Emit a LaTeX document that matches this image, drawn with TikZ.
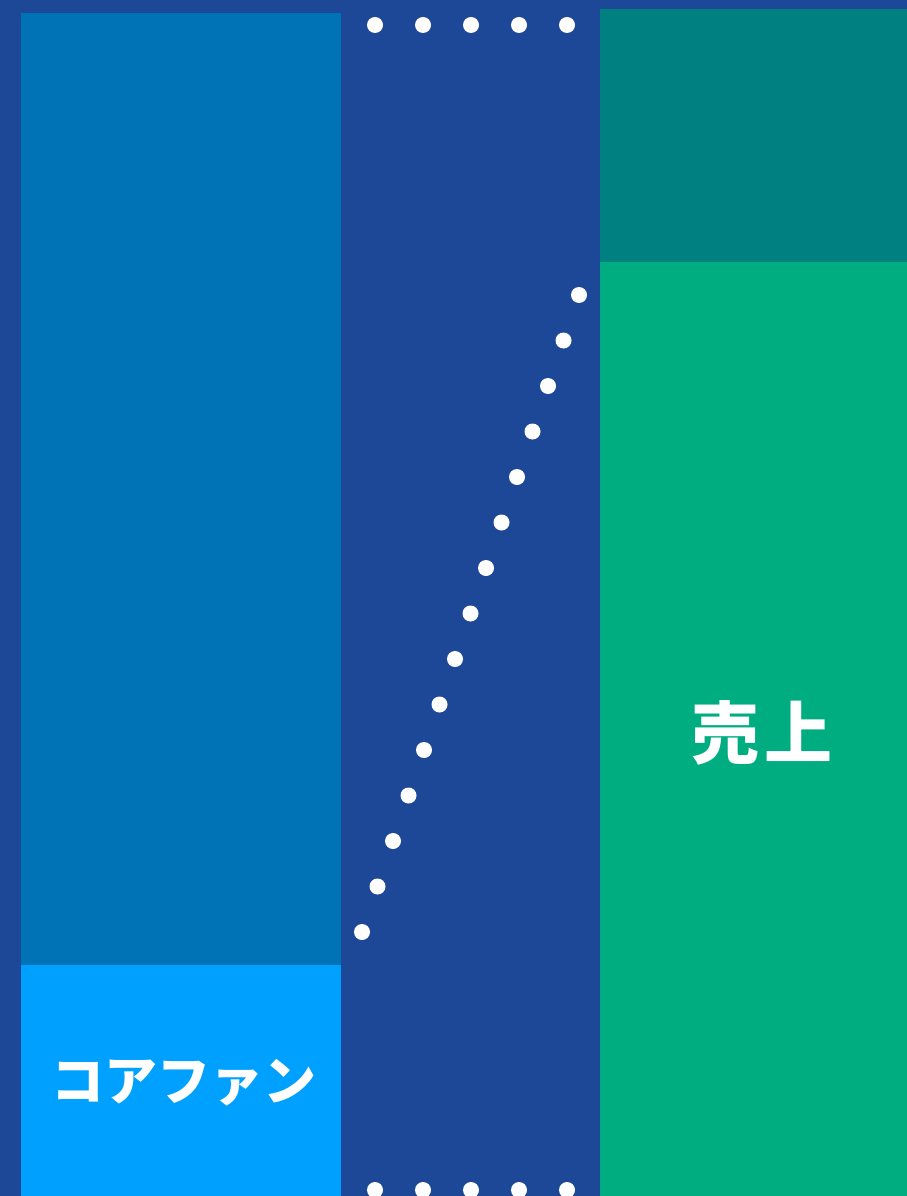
\documentclass[tikz,border=0pt]{standalone}
\usepackage{fontspec}
\newfontfamily\cjk{Noto Sans CJK JP}
\definecolor{bgblue}{RGB}{29,71,151}
\definecolor{fanblue}{RGB}{0,115,183}
\definecolor{coreblue}{RGB}{0,160,255}
\definecolor{tealtop}{RGB}{0,128,128}
\definecolor{salesgreen}{RGB}{0,173,128}
\tikzset{
  dot/.style={circle,fill=white,inner sep=0pt,minimum size=16pt},
  lbl/.style={text=white,font=\cjk\bfseries,inner sep=0pt}
}
\begin{document}
\begin{tikzpicture}[x=1pt,y=-1pt]
\fill[bgblue] (0,0) rectangle (907,1196);
\useasboundingbox (0,0) rectangle (907,1196);
% left column
\fill[fanblue] (21,13) rectangle (341,965);
\fill[coreblue] (21,965) rectangle (341,1196);
% right column
\fill[tealtop] (600,9) rectangle (907,262);
\fill[salesgreen] (600,262) rectangle (907,1196);
% labels
\node[lbl,font=\cjk\bfseries\fontsize{53}{53}\selectfont] (core) at (184,1083) {コアファン};
\node[lbl,font=\cjk\bfseries\fontsize{68}{68}\selectfont] (sales) at (762,733) {売\hspace{6pt}上};
% top and bottom dots
\foreach \i in {0,...,4} {
  \node[dot] (t\i) at (375+48*\i,25) {};
  \node[dot] (b\i) at (375+48*\i,1190) {};
}
% diagonal dots
\foreach \i in {0,...,14} {
  \node[dot] (d\i) at (362+15.5*\i,932-45.5*\i) {};
}
\end{tikzpicture}
\end{document}
